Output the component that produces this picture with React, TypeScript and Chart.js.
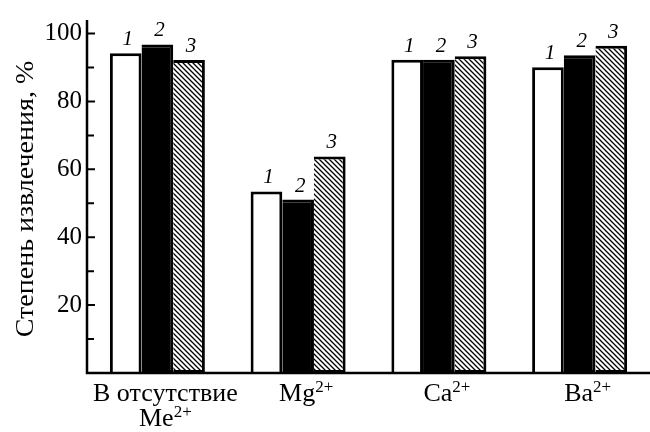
import React, { useEffect, useRef } from "react";
import { Chart, registerables } from "chart.js";

Chart.register(...registerables);

const categories = [
  [[{ t: "В отсутствие" }], [{ t: "Me" }, { t: "2+", sup: true }]],
  [[{ t: "Mg" }, { t: "2+", sup: true }]],
  [[{ t: "Ca" }, { t: "2+", sup: true }]],
  [[{ t: "Ba" }, { t: "2+", sup: true }]],
];
const series1 = [94.2, 53.5, 92.3, 90.1];
const series2 = [96.8, 51.1, 92.3, 93.6];
const series3 = [92.2, 63.8, 93.3, 96.4];
const seriesNames = ["1", "2", "3"];
const majorTicks = [20, 40, 60, 80, 100];
const minorTicks = [10, 30, 50, 70, 90];
const yTitle = "Степень извлечения, %";

const FONT = '"Liberation Serif", "Times New Roman", Times, serif';

function makeHatch(): CanvasPattern | string {
  const s = 5;
  const c = document.createElement("canvas");
  c.width = s;
  c.height = s;
  const g = c.getContext("2d");
  if (!g) return "#fff";
  g.fillStyle = "#fff";
  g.fillRect(0, 0, s, s);
  g.strokeStyle = "#000";
  g.lineWidth = 1.3;
  g.beginPath();
  g.moveTo(-1, -1);
  g.lineTo(s + 1, s + 1);
  g.moveTo(-s - 1, -1);
  g.lineTo(1, s + 1);
  g.moveTo(s - 1, -1);
  g.lineTo(2 * s + 1, s + 1);
  g.stroke();
  const p = g.createPattern(c, "repeat");
  return p || "#fff";
}

const decorPlugin = {
  id: "decor",
  afterDraw(chart: any) {
    const ctx: CanvasRenderingContext2D = chart.ctx;
    const area = chart.chartArea;
    const y = chart.scales.y;
    const x = chart.scales.x;
    ctx.save();
    ctx.strokeStyle = "#000";
    ctx.lineWidth = 2.5;
    ctx.beginPath();
    ctx.moveTo(area.left, area.top);
    ctx.lineTo(area.left, area.bottom);
    ctx.lineTo(chart.width, area.bottom);
    ctx.stroke();
    ctx.lineWidth = 2;
    ctx.beginPath();
    majorTicks.forEach((v) => {
      const py = y.getPixelForValue(v);
      ctx.moveTo(area.left, py);
      ctx.lineTo(area.left + 8, py);
    });
    minorTicks.forEach((v) => {
      const py = y.getPixelForValue(v);
      ctx.moveTo(area.left, py);
      ctx.lineTo(area.left + 7, py);
    });
    ctx.stroke();

    ctx.fillStyle = "#000";
    ctx.save();
    ctx.translate(33, 199);
    ctx.rotate(-Math.PI / 2);
    ctx.scale(1.12, 1);
    ctx.font = `25px ${FONT}`;
    ctx.textAlign = "center";
    ctx.textBaseline = "alphabetic";
    ctx.fillText(yTitle, 0, 0);
    ctx.restore();

    ctx.textAlign = "left";
    ctx.textBaseline = "alphabetic";
    categories.forEach((lines, i) => {
      const cx = x.getPixelForValue(i) + 8;
      lines.forEach((parts, li) => {
        const base = area.bottom + 28 + li * 25;
        let w = 0;
        parts.forEach((p: any) => {
          ctx.font = p.sup ? `17px ${FONT}` : `26px ${FONT}`;
          w += ctx.measureText(p.t).width;
        });
        let px = cx - w / 2;
        parts.forEach((p: any) => {
          ctx.font = p.sup ? `17px ${FONT}` : `26px ${FONT}`;
          ctx.fillText(p.t, px, p.sup ? base - 9 : base);
          px += ctx.measureText(p.t).width;
        });
      });
    });

    ctx.font = `italic 21px ${FONT}`;
    ctx.textAlign = "center";
    chart.data.datasets.forEach((ds: any, di: number) => {
      const meta = chart.getDatasetMeta(di);
      meta.data.forEach((bar: any) => {
        ctx.fillText(seriesNames[di], bar.x + 2, bar.y - 8);
      });
    });
    ctx.restore();
  },
};

export default function App() {
  const ref = useRef<HTMLCanvasElement | null>(null);
  useEffect(() => {
    let chart: any = null;
    let cancelled = false;
    const build = () => {
      if (cancelled || !ref.current) return;
      const hatch = makeHatch();
      const common = {
        borderColor: "#000",
        borderWidth: 3,
        categoryPercentage: 0.675,
        barPercentage: 1.0,
      };
      chart = new Chart(ref.current, {
        type: "bar",
        data: {
          labels: categories.map((_, i) => String(i)),
          datasets: [
            { label: seriesNames[0], data: series1, backgroundColor: "#fff", borderSkipped: "bottom", ...common },
            { label: seriesNames[1], data: series2, backgroundColor: "#000", borderSkipped: "left", ...common },
            { label: seriesNames[2], data: series3, backgroundColor: hatch as any, borderSkipped: "left", ...common },
          ],
        },
        options: {
          responsive: false,
          animation: false,
          devicePixelRatio: 1,
          layout: { padding: { top: 10, right: 0, left: 0, bottom: 0 } },
          plugins: { legend: { display: false }, tooltip: { enabled: false } },
          scales: {
            x: {
              type: "category",
              grid: { display: false, drawTicks: false },
              border: { display: false },
              ticks: { display: false },
              afterFit: (s: any) => {
                s.height = 59;
              },
            },
            y: {
              type: "linear",
              min: 0,
              max: 104,
              grid: { display: false, drawTicks: false },
              border: { display: false },
              afterBuildTicks: (s: any) => {
                s.ticks = majorTicks.map((v) => ({ value: v }));
              },
              ticks: {
                color: "#000",
                padding: 5,
                font: { family: FONT, size: 25 },
                callback: (v: any) => String(v),
              },
              afterFit: (s: any) => {
                s.width = 87;
              },
            },
          },
        },
        plugins: [decorPlugin],
      } as any);
    };
    const fonts: any = (document as any).fonts;
    if (fonts && fonts.load) {
      Promise.all([
        fonts.load('25px "Liberation Serif"'),
        fonts.load('italic 21px "Liberation Serif"'),
      ])
        .catch(() => null)
        .then(build);
    } else {
      build();
    }
    return () => {
      cancelled = true;
      if (chart) chart.destroy();
    };
  }, []);
  return (
    <div style={{ position: "absolute", left: 0, top: 0, width: 650, height: 432, background: "#fff" }}>
      <canvas ref={ref} width={650} height={432} />
    </div>
  );
}
